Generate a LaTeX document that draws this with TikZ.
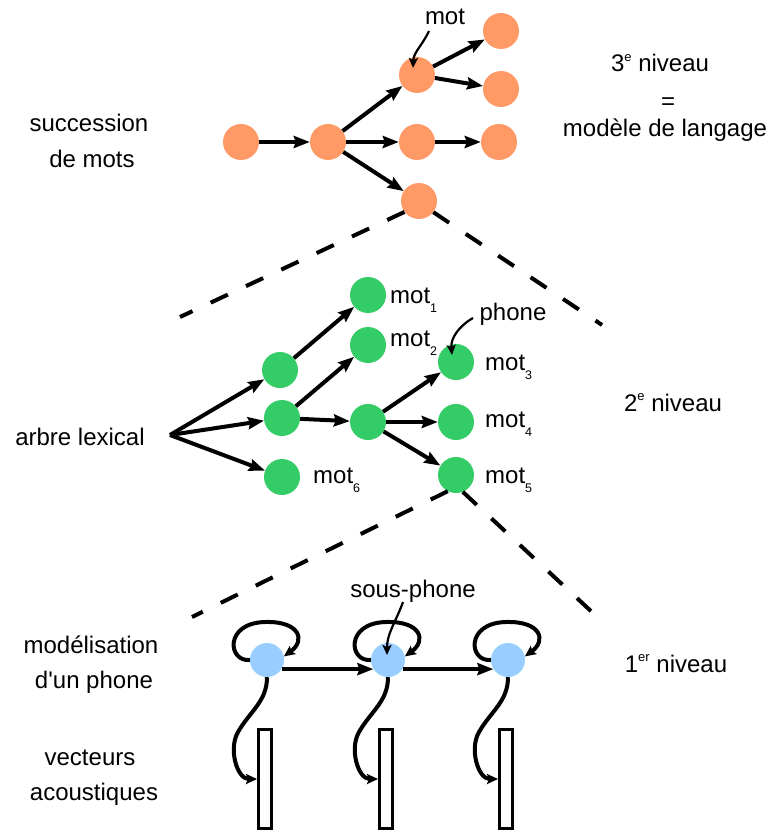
\documentclass[tikz,border=0pt]{standalone}
\usepackage{fontspec}
\setmainfont{Liberation Sans}
\usetikzlibrary{arrows.meta,calc}
\definecolor{orangec}{HTML}{FF9966}
\definecolor{greenc}{HTML}{33CC66}
\definecolor{bluec}{HTML}{99CCFF}
\newcommand{\subs}[1]{\raisebox{-9pt}{\fontsize{12.5}{12.5}\selectfont #1}}
\newcommand{\sups}[1]{\raisebox{10.5pt}{\fontsize{13}{13}\selectfont #1}}
\begin{document}
\begin{tikzpicture}[x=1pt,y=-1pt,
  every node/.style={font=\fontsize{24}{29}\selectfont, inner sep=0pt},
  lbl/.style={anchor=base},
  lbll/.style={anchor=base west},
  onode/.style={circle, fill=orangec, minimum size=36pt},
  gnode/.style={circle, fill=greenc, minimum size=36pt},
  bnode/.style={circle, fill=bluec, minimum size=34pt},
  vec/.style={rectangle, draw=black, line width=3pt, fill=white, minimum width=13pt, minimum height=99pt},
  arr/.style={line width=4pt, -{Stealth[length=16pt,width=12pt,inset=2pt]}},
  sarr/.style={line width=4pt, -{Stealth[length=11pt,width=10pt,inset=2pt]}},
  parr/.style={line width=2.2pt, -{Stealth[length=10pt,width=9pt,inset=2pt]}},
  dline/.style={line width=4pt, dash pattern=on 19pt off 20pt}
]
\useasboundingbox (0,0) rectangle (771,834);

% ---------- level 3 ----------
\node[onode] (A) at (241,142) {};
\node[onode] (B) at (328,142) {};
\node[onode] (C) at (417,75) {};
\node[onode] (D) at (417,142) {};
\node[onode] (E) at (419,201) {};
\node[onode] (F) at (501,31) {};
\node[onode] (G) at (501,89) {};
\node[onode] (H) at (499,142) {};
\draw[arr] (A) -- (B);
\draw[arr] (B) -- (C);
\draw[arr] (B) -- (D);
\draw[arr] (B) -- (E);
\draw[arr] (C) -- (F);
\draw[arr] (C) -- (G);
\draw[arr] (D) -- (H);
\node[lbl] (motlbl) at (445,25) {mot};
\coordinate (motstart) at (429,31);
\draw[parr] (motstart) to[out=-115,in=88] ($(C)+(-4,-7)$);

% dashed lines level 3 -> 2
\coordinate (d1) at (180,317);
\coordinate (d2) at (602,325);
\draw[dline] (E.-143) -- (d1);
\draw[dline] (E.-38) -- (d2);

% ---------- level 2 ----------
\coordinate (root) at (170,435);
\node[gnode] (g1) at (280,370) {};
\node[gnode] (g2) at (282,418) {};
\node[gnode] (g3) at (282,477) {};
\node[gnode] (w1) at (368,295) {};
\node[gnode] (w2) at (368,345) {};
\node[gnode] (g4) at (368,422) {};
\node[gnode] (w3) at (456,362) {};
\node[gnode] (w4) at (456,422) {};
\node[gnode] (w5) at (456,475) {};
\draw[arr] (root) -- (g1);
\draw[arr] (root) -- (g2);
\draw[arr] (root) -- (g3);
\draw[arr] (g1) -- (w1);
\draw[arr] (g2) -- (w2);
\draw[arr] (g2) -- (g4);
\draw[arr] (g4) -- (w3);
\draw[arr] (g4) -- (w4);
\draw[arr] (g4) -- (w5);
\node[lbll] (l1) at (390,303) {mot\subs{1}};
\node[lbll] (l2) at (390,346) {mot\subs{2}};
\node[lbll] (l3) at (485,370) {mot\subs{3}};
\node[lbll] (l4) at (485,427) {mot\subs{4}};
\node[lbll] (l5) at (485,483) {mot\subs{5}};
\node[lbll] (l6) at (313,483) {mot\subs{6}};
\node[lbl] (phonelbl) at (513,320) {phone};
\coordinate (phstart) at (473,318);
\draw[parr] (phstart) to[out=-150,in=95] ($(w3)+(-4,-7)$);

% dashed lines level 2 -> 1
\coordinate (d3) at (192,617);
\coordinate (d4) at (593,613);
\draw[dline] (w5.-117) -- (d3);
\draw[dline] (w5.-68) -- (d4);

% ---------- level 1 ----------
\node[bnode] (b1) at (267,660) {};
\node[bnode] (b2) at (388,660) {};
\node[bnode] (b3) at (508,660) {};
\draw[arr] (b1.-32) -- (b2.212);
\draw[arr] (b2.-32) -- (b3.212);
\foreach \b in {b1,b2,b3}{
  \draw[sarr] (\b.west) .. controls +(-22,2) and +(-41,1) .. ($(\b)+(-2,-38)$) .. controls +(35,-1) and +(22,-16) .. (\b.12);
}
\node[lbl] (splbl) at (413,597) {sous-phone};
\coordinate (spstart) at (403,602);
\draw[parr] (spstart) to[out=-110,in=90] ($(b2)+(-1,-5)$);

\node[vec] (v1) at (265,779) {};
\node[vec] (v2) at (386,779) {};
\node[vec] (v3) at (506,779) {};
\draw[sarr] (b1.south) to[out=-90,in=60] ($(b1)+(-29,72)$) to[out=-120,in=180] (v1.west);
\draw[sarr] (b2.south) to[out=-90,in=60] ($(b2)+(-29,72)$) to[out=-120,in=180] (v2.west);
\draw[sarr] (b3.south) to[out=-90,in=60] ($(b3)+(-29,72)$) to[out=-120,in=180] (v3.west);

% ---------- left texts ----------
\node[lbl] (t1) at (89,132) {succession};
\node[lbl] (t2) at (92,168) {de mots};
\node[lbl] (t3) at (80,445) {arbre lexical};
\node[lbl] (t4) at (91,653) {modélisation};
\node[lbl] (t5) at (94,688) {d\textquotesingle un phone};
\node[lbl] (t6) at (90,765) {vecteurs};
\node[lbl] (t7) at (94,800) {acoustiques};

% ---------- right texts ----------
\node[lbl] (r1) at (660,72) {3\sups{e} niveau};
\node (r2) at (668,103.5) {=};
\node[lbl] (r3) at (665,137) {modèle de langage};
\node[lbl] (r4) at (673,411) {2\sups{e} niveau};
\node[lbl] (r5) at (676,672) {1\sups{er} niveau};
\end{tikzpicture}
\end{document}
